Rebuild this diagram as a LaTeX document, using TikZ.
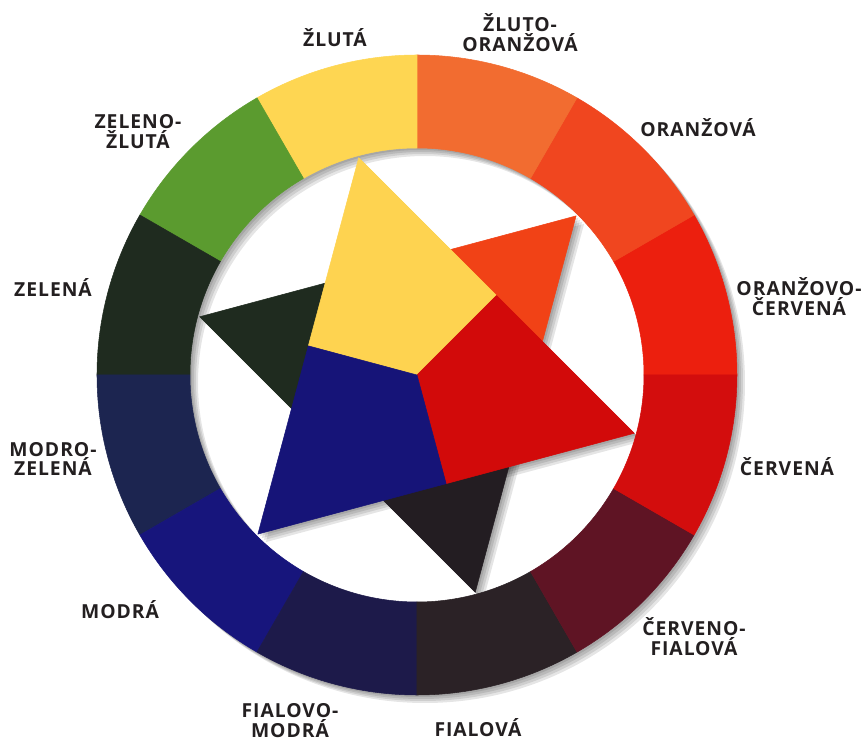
\documentclass[tikz,border=0pt]{standalone}
\usepackage{fontspec}
\setmainfont{Open Sans}
\usetikzlibrary{calc}
\definecolor{txt}{RGB}{35,31,32}
% --- ring colours ---
\definecolor{cOrRe}{RGB}{236,31,14}
\definecolor{cOr}{RGB}{240,70,31}
\definecolor{cYeOr}{RGB}{242,108,48}
\definecolor{cYe}{RGB}{254,214,82}
\definecolor{cGrYe}{RGB}{91,155,47}
\definecolor{cGr}{RGB}{31,43,31}
\definecolor{cBlGr}{RGB}{28,37,80}
\definecolor{cBl}{RGB}{23,21,124}
\definecolor{cViBl}{RGB}{29,26,74}
\definecolor{cVi}{RGB}{43,34,38}
\definecolor{cReVi}{RGB}{95,20,36}
\definecolor{cRe}{RGB}{211,13,13}
% --- inner colours ---
\definecolor{iYe}{RGB}{254,211,80}
\definecolor{iRe}{RGB}{210,10,10}
\definecolor{iBl}{RGB}{22,20,120}
\definecolor{iOr}{RGB}{241,66,22}
\definecolor{iGr}{RGB}{31,43,31}
\definecolor{iVi}{RGB}{35,29,34}
\tikzset{
  every picture/.style={line width=0.6pt},
  lbl/.style={font=\bfseries\fontsize{11}{10.2}\selectfont\addfontfeatures{LetterSpace=5},
    text=txt,align=center,inner sep=1pt},
  shd/.style={fill=black,opacity=0.10},
  piece/.style={line width=0.3pt,line join=round},
}

\begin{document}
\begin{tikzpicture}[x=0.02cm,y=0.02cm]
\useasboundingbox (-417,-365) rectangle (449,375);
% --- shadows ---
\foreach \d in {2,4,6,8}{
  \fill[shd,even odd rule,shift={(\d,-\d)}] (0,0) circle (320) (0,0) circle (227);
  \fill[shd,shift={(\d,-\d)}] (105:225) -- (-15:225) -- (225:225) -- cycle;
  \foreach \t in {45,165,285}
    \fill[shd,shift={(\d,-\d)}] (\t:225) -- ($(\t:225)+(\t+150:150)$) -- ($(\t:225)+(\t+210:150)$) -- cycle;
}
% --- ring ---
\foreach \a/\c in {0/cOrRe,30/cOr,60/cYeOr,90/cYe,120/cGrYe,150/cGr,180/cBlGr,210/cBl,240/cViBl,270/cVi,300/cReVi,330/cRe}{
  \filldraw[piece,fill=\c,draw=\c] (\a:227) arc[start angle=\a,end angle=\a+30,radius=227]
    -- (\a+30:320) arc[start angle=\a+30,end angle=\a,radius=320] -- cycle;
}
% --- secondary triangles ---
\foreach \t/\c in {45/iOr,165/iGr,285/iVi}
  \filldraw[piece,fill=\c,draw=\c] (\t:225) -- ($(\t:225)+(\t+150:150)$) -- ($(\t:225)+(\t+210:150)$) -- cycle;
% --- primary triangle ---
\coordinate (O) at (0,0);
\coordinate (vYe) at (105:225);
\coordinate (vRe) at (-15:225);
\coordinate (vBl) at (225:225);
\coordinate (mYR) at (45:112.5);
\coordinate (mRB) at (285:112.5);
\coordinate (mBY) at (165:112.5);
\filldraw[piece,fill=iYe,draw=iYe] (O) -- (mBY) -- (vYe) -- (mYR) -- cycle;
\filldraw[piece,fill=iRe,draw=iRe] (O) -- (mYR) -- (vRe) -- (mRB) -- cycle;
\filldraw[piece,fill=iBl,draw=iBl] (O) -- (mRB) -- (vBl) -- (mBY) -- cycle;
% --- labels ---
\node[lbl] (lYe) at (-82,337) {ŽLUTÁ};
\node[lbl] (lYeOr) at (103,342) {ŽLUTO-\\ORANŽOVÁ};
\node[lbl] (lOr) at (281,247) {ORANŽOVÁ};
\node[lbl] (lOrRe) at (382,78) {ORANŽOVO-\\ČERVENÁ};
\node[lbl] (lRe) at (370,-92) {ČERVENÁ};
\node[lbl] (lReVi) at (277,-262) {ČERVENO-\\FIALOVÁ};
\node[lbl] (lVi) at (61,-353) {FIALOVÁ};
\node[lbl] (lViBl) at (-127,-346) {FIALOVO-\\MODRÁ};
\node[lbl] (lBl) at (-297,-235) {MODRÁ};
\node[lbl] (lBlGr) at (-364,-84) {MODRO-\\ZELENÁ};
\node[lbl] (lGr) at (-364,87) {ZELENÁ};
\node[lbl] (lGrYe) at (-279,243) {ZELENO-\\ŽLUTÁ};
\end{tikzpicture}
\end{document}
